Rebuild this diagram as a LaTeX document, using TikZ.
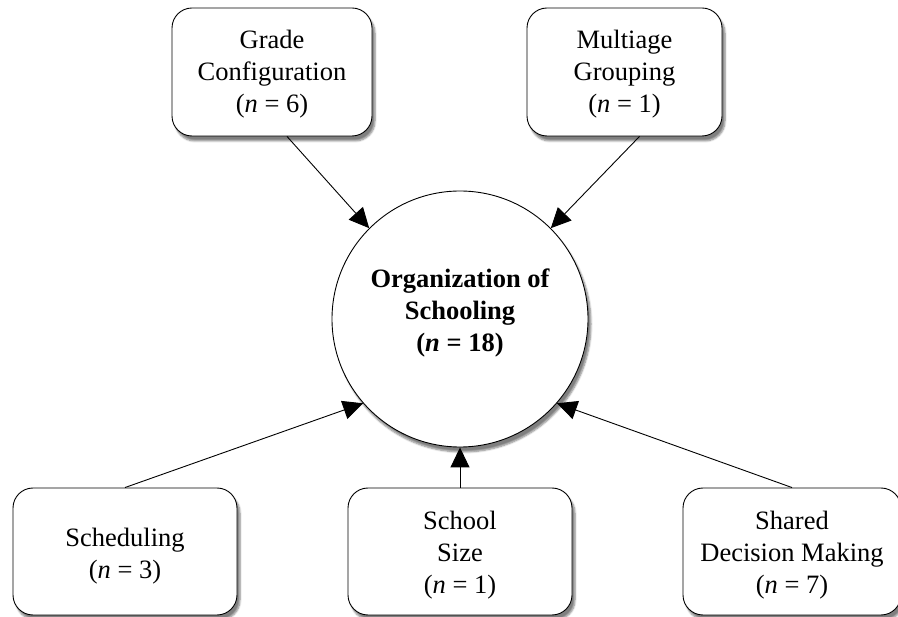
\documentclass[tikz,border=0pt]{standalone}
\usepackage{fontspec}
\setmainfont{Liberation Serif}
\usetikzlibrary{arrows.meta,shadows.blur,calc}
\begin{document}
\begin{tikzpicture}[x=1pt,y=-1pt,
  boxfont/.style={font=\fontsize{26.5}{32}\selectfont},
  box/.style={draw, line width=0.9pt, rounded corners=20pt, fill=white,
    blur shadow={shadow xshift=3pt, shadow yshift=-5pt, shadow blur steps=6, shadow opacity=50},
    inner sep=0pt},
  txt/.style={align=center, inner sep=0pt, boxfont},
  hub/.style={draw, line width=0.9pt, circle, fill=white, minimum size=256pt, inner sep=0pt,
    blur shadow={shadow xshift=3pt, shadow yshift=-5pt, shadow blur steps=6, shadow opacity=50}},
  conn/.style={line width=0.9pt, -{Triangle[length=20pt,width=19pt]}}]
\useasboundingbox (0,0) rectangle (898,617);
\node[hub] (org) at (460,319) {};
\node[txt, font=\fontsize{26.5}{32}\selectfont\bfseries] (orgt) at (460,313) {Organization of\\Schooling\\(\textit{n} = 18)};
\node[box, minimum width=200pt, minimum height=128pt] (grade) at (272,72) {};
\node[txt] (gradet) at (272,74) {Grade\\Configuration\\(\textit{n} = 6)};
\node[box, minimum width=195pt, minimum height=128pt] (multi) at (624.5,72) {};
\node[txt] (multit) at (624.5,74) {Multiage\\Grouping\\(\textit{n} = 1)};
\node[box, minimum width=224pt, minimum height=127pt] (sched) at (125,551.5) {};
\node[txt] (schedt) at (125,556) {Scheduling\\(\textit{n} = 3)};
\node[box, minimum width=224pt, minimum height=127pt] (size) at (460,551.5) {};
\node[txt] (sizet) at (460,555) {School\\Size\\(\textit{n} = 1)};
\node[box, minimum width=218pt, minimum height=127pt] (shared) at (792,551.5) {};
\node[txt] (sharedt) at (792,555) {Shared\\Decision Making\\(\textit{n} = 7)};
\coordinate (gs) at ($(grade.south)+(15,0)$);
\coordinate (ms) at ($(multi.south)+(15,0)$);
\draw[conn] (gs) -- (org.135);
\draw[conn] (ms) -- (org.45);
\draw[conn] (sched.north) -- (org.221);
\draw[conn] (size.north) -- (org.270);
\draw[conn] (shared.north) -- (org.319);
\end{tikzpicture}
\end{document}
